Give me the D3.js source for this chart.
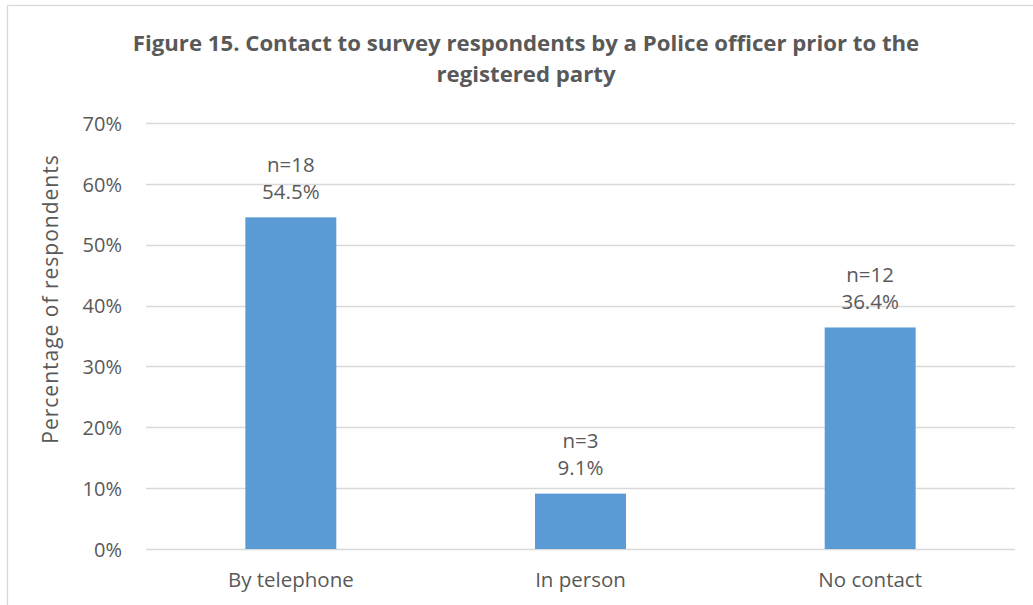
<!DOCTYPE html>
<html><head><meta charset="utf-8">
<script src="https://cdn.jsdelivr.net/npm/d3@7"></script>
<style>
html,body{margin:0;padding:0;background:#fff;}
svg{display:block;}
text{font-family:"Open Sans",Lato,sans-serif;fill:#595959;}
</style></head>
<body>
<svg id="chart" width="1033" height="605"></svg>
<script>
const titleLines = ["Figure 15. Contact to survey respondents by a Police officer prior to the", "registered party"];
const categories = ["By telephone", "In person", "No contact"];
const values = [54.5, 9.1, 36.4];
const counts = [18, 3, 12];
const yTicks = [0, 10, 20, 30, 40, 50, 60, 70];
const yAxisTitle = "Percentage of respondents";

const svg = d3.select("#chart");
// chart border
svg.append("rect").attr("x", 7.5).attr("y", 5.5).attr("width", 1040).attr("height", 620)
  .attr("fill", "#fff").attr("stroke", "#D9D9D9").attr("stroke-width", 1.3);

const m = {left: 146, right: 1015, top: 123, bottom: 549};
const x = d3.scaleBand().domain(categories).range([m.left, m.right]).paddingInner(0.686).paddingOuter(0.343);
const y = d3.scaleLinear().domain([0, 70]).range([m.bottom, m.top]);

// gridlines
svg.append("g").selectAll("line").data(yTicks).join("line")
  .attr("x1", m.left).attr("x2", m.right)
  .attr("y1", d => Math.round(y(d)) + 0.5).attr("y2", d => Math.round(y(d)) + 0.5)
  .attr("stroke", "#D9D9D9").attr("stroke-width", 1.3);

// y axis labels
const yAxis = d3.axisLeft(y).tickValues(yTicks).tickFormat(d => d + "%").tickSize(0).tickPadding(24);
const gy = svg.append("g").attr("transform", `translate(${m.left},0)`).call(yAxis);
gy.select(".domain").remove();
gy.selectAll("text").style("font-size", "20px").style("font-family", "'Open Sans'").attr("fill", "#595959").attr("dy", "0.36em");

// bars
svg.append("g").selectAll("rect").data(values).join("rect")
  .attr("x", (d, i) => x(categories[i]))
  .attr("width", x.bandwidth())
  .attr("y", d => y(d))
  .attr("height", d => y(0) - y(d))
  .attr("fill", "#5B9BD5");

// data labels
const lbl = svg.append("g").selectAll("g").data(values).join("g");
lbl.append("text").attr("text-anchor", "middle").style("font-size", "20.5px")
  .attr("x", (d, i) => x(categories[i]) + x.bandwidth() / 2)
  .attr("y", d => y(d) - 45.5)
  .text((d, i) => "n=" + counts[i]);
lbl.append("text").attr("text-anchor", "middle").style("font-size", "20.5px")
  .attr("x", (d, i) => x(categories[i]) + x.bandwidth() / 2)
  .attr("y", d => y(d) - 18.5)
  .text(d => d.toFixed(1) + "%");

// x axis labels
const xAxis = d3.axisBottom(x).tickSize(0).tickPadding(0);
const gx = svg.append("g").attr("transform", `translate(0,${m.bottom})`).call(xAxis);
gx.select(".domain").remove();
gx.selectAll("text").style("font-size", "20.5px").style("font-family", "'Open Sans'").attr("fill", "#595959").attr("dy", null).attr("y", 38);

// axis title
svg.append("text").attr("transform", "translate(58,299) rotate(-90)")
  .attr("text-anchor", "middle").style("font-size", "21px").style("letter-spacing", "1px").text(yAxisTitle);

// title
svg.append("g").selectAll("text").data(titleLines).join("text")
  .attr("x", 526).attr("y", (d, i) => 51 + i * 31)
  .attr("text-anchor", "middle").style("font-size", "22.2px").style("font-weight", "bold")
  .text(d => d);
</script>
</body></html>
